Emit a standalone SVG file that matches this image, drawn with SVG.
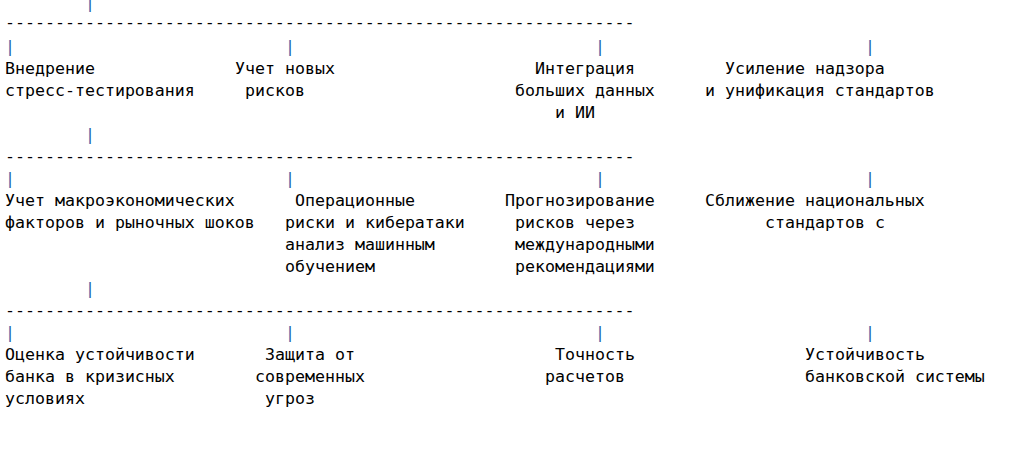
<svg xmlns="http://www.w3.org/2000/svg" width="1023" height="470" viewBox="0 0 1023 470">
<style>
text{font-family:"DejaVu Sans Mono","Liberation Mono",monospace;font-size:16.6px;fill:#000}
.b{fill:#1f5fa8}
</style>
<rect width="1023" height="470" fill="#fff"/>
<g id="connectors">
<text class="b" x="85" y="8">|</text>
<text x="5" y="28">---------------------------------------------------------------</text>
<text class="b" x="5" y="52">|</text><text class="b" x="285" y="52">|</text><text class="b" x="595" y="52">|</text><text class="b" x="865" y="52">|</text>
<text class="b" x="85" y="140">|</text>
<text x="5" y="162">---------------------------------------------------------------</text>
<text class="b" x="5" y="184">|</text><text class="b" x="285" y="184">|</text><text class="b" x="595" y="184">|</text><text class="b" x="865" y="184">|</text>
<text class="b" x="85" y="294">|</text>
<text x="5" y="316">---------------------------------------------------------------</text>
<text class="b" x="5" y="338">|</text><text class="b" x="285" y="338">|</text><text class="b" x="595" y="338">|</text><text class="b" x="865" y="338">|</text>
</g>
<g id="n1"><text x="5" y="74">Внедрение</text><text x="5" y="96">стресс-тестирования</text></g>
<g id="n2"><text x="235" y="74">Учет новых</text><text x="245" y="96">рисков</text></g>
<g id="n3"><text x="535" y="74">Интеграция</text><text x="515" y="96">больших данных</text><text x="555" y="118">и ИИ</text></g>
<g id="n4"><text x="725" y="74">Усиление надзора</text><text x="705" y="96">и унификация стандартов</text></g>
<g id="n5"><text x="5" y="206">Учет макроэкономических</text><text x="5" y="228">факторов и рыночных шоков</text></g>
<g id="n6"><text x="295" y="206">Операционные</text><text x="285" y="228">риски и кибератаки</text><text x="285" y="250">анализ машинным</text><text x="285" y="272">обучением</text></g>
<g id="n7"><text x="505" y="206">Прогнозирование</text><text x="515" y="228">рисков через</text><text x="515" y="250">международными</text><text x="515" y="272">рекомендациями</text></g>
<g id="n8"><text x="705" y="206">Сближение национальных</text><text x="765" y="228">стандартов с</text></g>
<g id="n9"><text x="5" y="360">Оценка устойчивости</text><text x="5" y="382">банка в кризисных</text><text x="5" y="404">условиях</text></g>
<g id="n10"><text x="265" y="360">Защита от</text><text x="255" y="382">современных</text><text x="265" y="404">угроз</text></g>
<g id="n11"><text x="555" y="360">Точность</text><text x="545" y="382">расчетов</text></g>
<g id="n12"><text x="805" y="360">Устойчивость</text><text x="805" y="382">банковской системы</text></g>
</svg>
